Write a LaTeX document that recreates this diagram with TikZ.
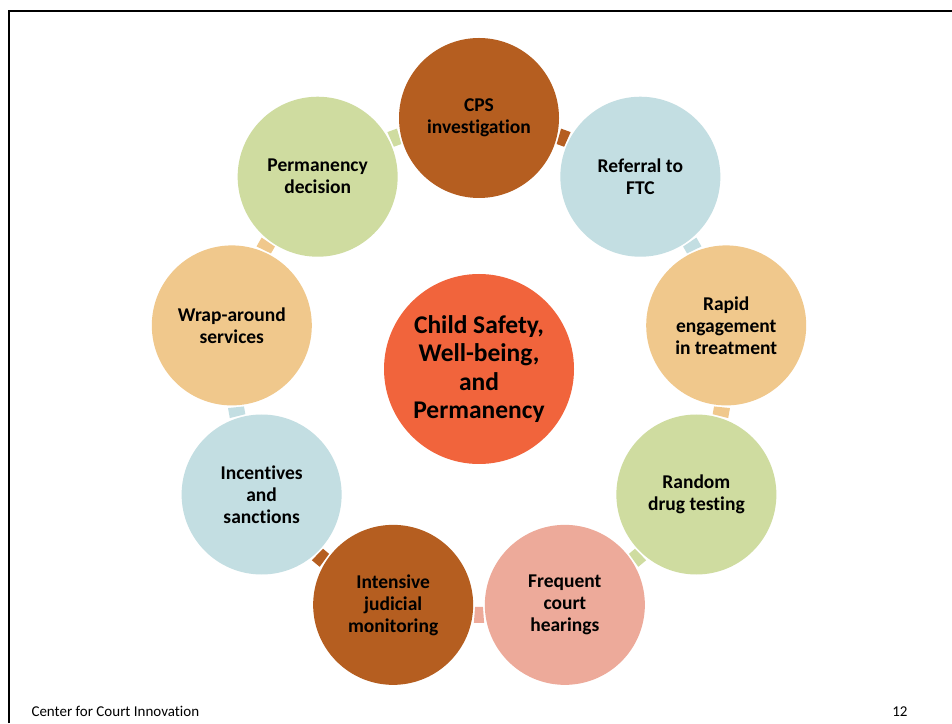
\documentclass[tikz,border=0pt]{standalone}
\usepackage{fontspec}
\setmainfont[Ligatures=NoCommon]{Carlito}
\usetikzlibrary{calc}
\definecolor{cbrown}{HTML}{B55E20}
\definecolor{cblue}{HTML}{C3DEE2}
\definecolor{corange}{HTML}{F0C88C}
\definecolor{cgreen}{HTML}{CFDCA0}
\definecolor{cpink}{HTML}{EDAA9A}
\definecolor{ccenter}{HTML}{F1643C}
\tikzset{
  outer/.style={circle, minimum size=160pt, inner sep=0pt, align=center,
    font=\fontsize{19.5}{22}\selectfont\bfseries},
  hub/.style={circle, minimum size=190pt, inner sep=0pt, align=center,
    fill=ccenter, font=\fontsize{25.5}{28.5}\selectfont\bfseries},
  footer/.style={font=\fontsize{15}{18}\selectfont}
}
\begin{document}
\begin{tikzpicture}[x=1pt,y=1pt]
\useasboundingbox (0,0) rectangle (952,723);
\fill[white] (0,0) rectangle (952,723);
\draw[line width=2pt] (9,0) -- (9,711.5) -- (952,711.5);

\node[hub] (hub) at (479,354) {Child Safety,\\Well-being,\\and\\Permanency};

\node[outer, fill=cbrown]  (cps)  at ($(hub)+(90:251)$)   {CPS\\investigation};
\node[outer, fill=cblue]   (ref)  at ($(hub)+(50:251)$)   {Referral to\\FTC};
\node[outer, fill=corange] (rap)  at ($(hub)+(10:251)$)   {Rapid\\engagement\\in treatment};
\node[outer, fill=cgreen]  (rnd)  at ($(hub)+(-30:251)$)  {Random\\drug testing};
\node[outer, fill=cpink]   (frq)  at ($(hub)+(-70:251)$)  {Frequent\\court\\hearings};
\node[outer, fill=cbrown]  (int)  at ($(hub)+(-110:251)$) {Intensive\\judicial\\monitoring};
\node[outer, fill=cblue]   (inc)  at ($(hub)+(-150:251)$) {Incentives\\and\\sanctions};
\node[outer, fill=corange] (wrap) at ($(hub)+(170:251)$)  {Wrap-around\\services};
\node[outer, fill=cgreen]  (perm) at ($(hub)+(130:251)$)  {Permanency\\decision};

\foreach \a/\c in {70/cbrown, 30/cblue, -10/corange, -50/cgreen, -90/cpink,
                   -130/cbrown, -170/cblue, 150/corange, 110/cgreen}{
  \fill[\c] ($(hub)+(\a-0.95:238)$) -- ($(hub)+(\a+0.95:238)$)
    -- ($(hub)+(\a+1.15:254)$) -- ($(hub)+(\a-1.15:254)$) -- cycle;
}

\node[footer, anchor=base west] (foot) at (28,7) {Center for Court Innovation};
\node[footer, anchor=base east] (page) at (911,7) {12};
\end{tikzpicture}
\end{document}
